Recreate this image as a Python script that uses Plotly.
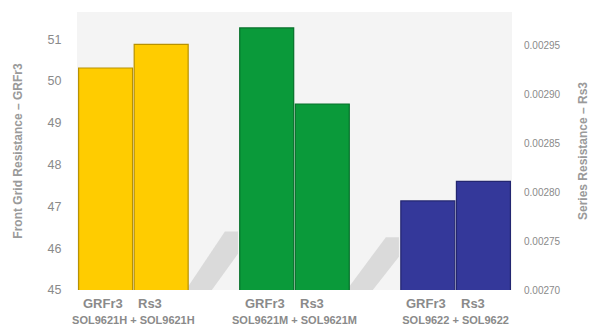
import plotly.graph_objects as go

groups = ["SOL9621H + SOL9621H", "SOL9621M + SOL9621M", "SOL9622 + SOL9622"]
sub_labels = ["GRFr3", "Rs3"]
grfr3 = [50.31, 51.27, 47.13]
rs3 = [0.002951, 0.002890, 0.002811]
fill_colors = ["#FFCC00", "#0A9A3A", "#34389A"]
edge_colors = ["#B89200", "#06702A", "#232670"]

left_ticks = [45, 46, 47, 48, 49, 50, 51]
right_ticks = [0.00270, 0.00275, 0.00280, 0.00285, 0.00290, 0.00295]

fig = go.Figure()
fig.add_trace(go.Bar(
    x=groups, y=grfr3, name="GRFr3", yaxis="y",
    offset=-0.34, width=0.335,
    marker=dict(color=fill_colors, line=dict(color=edge_colors, width=1.2)),
))
fig.add_trace(go.Bar(
    x=groups, y=rs3, name="Rs3", yaxis="y2",
    offset=0.005, width=0.335,
    marker=dict(color=fill_colors, line=dict(color=edge_colors, width=1.2)),
))

# faint diagonal shadows behind bars
shadow_paths = [
    "M 0.25,0.0 L 0.34,0.21 L 0.37,0.21 L 0.37,0.13 L 0.31,0.0 Z",
    "M 0.62,0.0 L 0.71,0.19 L 0.74,0.19 L 0.74,0.12 L 0.68,0.0 Z",
]
for p in shadow_paths:
    fig.add_shape(type="path", path=p, xref="paper", yref="paper",
                  fillcolor="rgba(170,170,170,0.35)", line=dict(width=0), layer="below")

for g in groups:
    for lab, sh in zip(sub_labels, [-30, 17]):
        fig.add_annotation(x=g, xref="x", y=0, yref="paper", text="<b>%s</b>" % lab,
                           showarrow=False, xshift=sh, yanchor="top", yshift=-4,
                           font=dict(size=13, color="#8a8a8a", family="Liberation Sans, Arial"))

fig.update_layout(
    width=596, height=327,
    margin=dict(l=77, r=84, t=12, b=37),
    paper_bgcolor="white", plot_bgcolor="#f4f4f4",
    barmode="overlay", showlegend=False,
    font=dict(family="Liberation Sans, Arial", color="#8a8a8a"),
    xaxis=dict(
        range=[-0.35, 2.35], showgrid=False, showline=False, zeroline=False,
        automargin=False,
        ticks="outside", ticklen=20, tickcolor="rgba(0,0,0,0)",
        tickvals=groups, ticktext=["<b>%s</b>" % g for g in groups],
        tickfont=dict(size=11, color="#8a8a8a"),
    ),
    yaxis=dict(
        range=[45, 51.65], tickvals=left_ticks, showgrid=False, zeroline=False,
        showline=False, tickfont=dict(size=12.5, color="#8a8a8a"), automargin=False,
        ticks="outside", ticklen=12, tickcolor="rgba(0,0,0,0)",
        title=dict(text="<b>Front Grid Resistance – GRFr3</b>", font=dict(size=12, color="#9a9a9a"), standoff=22),
    ),
    yaxis2=dict(
        range=[0.0027, 0.002984], overlaying="y", side="right", tickvals=right_ticks,
        tickformat=".5f", showgrid=False, zeroline=False, showline=False, automargin=False,
        tickfont=dict(size=10, color="#8a8a8a"),
        ticks="outside", ticklen=9, tickcolor="rgba(0,0,0,0)",
        title=dict(text="<b>Series Resistance – Rs3</b>", font=dict(size=12, color="#9a9a9a"), standoff=19),
    ),
)

fig.write_html("out.html")
